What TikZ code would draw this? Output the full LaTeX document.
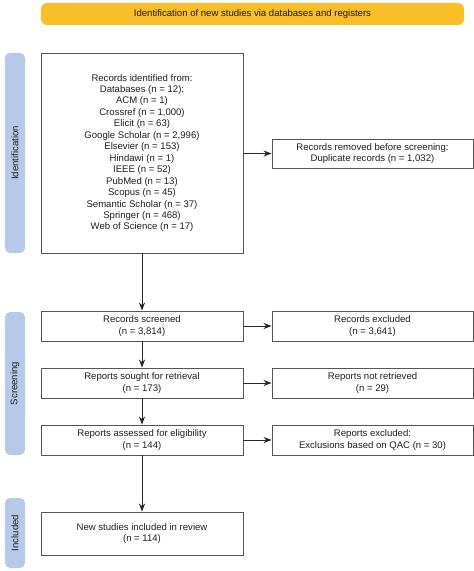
\documentclass[tikz,border=0pt]{standalone}
\usepackage{fontspec}
\setmainfont{Liberation Sans}
\usetikzlibrary{arrows.meta}
\definecolor{banner}{RGB}{251,189,40}
\definecolor{sidebar}{RGB}{182,201,232}
\definecolor{boxline}{RGB}{85,85,85}
\definecolor{txt}{RGB}{30,30,30}
\tikzset{
  flowbox/.style={draw=boxline, line width=0.9bp, fill=white, inner sep=0pt, align=center,
    text=txt, font=\fontsize{9.6}{11.5}\selectfont},
  leftbox/.style={flowbox, minimum width=202bp},
  rightbox/.style={flowbox, minimum width=201bp},
  sidebox/.style={fill=sidebar, rounded corners=5bp, inner sep=0pt, minimum width=20bp,
    text=txt, font=\fontsize{9.6}{11.5}\selectfont},
  sidetext/.style={rotate=90, text=txt, font=\fontsize{9.6}{11.5}\selectfont},
  conn/.style={draw=black!85, line width=0.8bp, -{Stealth[length=8bp,width=6bp]}}
}
\begin{document}
\begin{tikzpicture}[x=1bp,y=-1bp]
\useasboundingbox (0,0) rectangle (474,571);
% banner
\node[fill=banner, rounded corners=6bp, minimum width=423bp, minimum height=22bp, inner sep=0pt,
  text=txt, font=\fontsize{9.6}{11.5}\selectfont] (banner) at (252.5,14) {Identification of new studies via databases and registers};
% side bars
\node[sidebox, minimum height=200bp] (sid) at (15,153) {};
\node[sidetext] (sidt) at (sid.center) {Identification};
\node[sidebox, minimum height=143bp] (sscr) at (15,383.5) {};
\node[sidetext] (sscrt) at (sscr.center) {Screening};
\node[sidebox, minimum height=70bp] (sinc) at (15,533) {};
\node[sidetext] (sinct) at (sinc.center) {Included};
% boxes
\node[leftbox, minimum height=200bp] (main) at (142,153) {Records identified from:\\Databases (n = 12):\\ACM (n = 1)\\Crossref (n = 1,000)\\Elicit (n = 63)\\Google Scholar (n = 2,996)\\Elsevier (n = 153)\\Hindawi (n = 1)\\IEEE (n = 52)\\PubMed (n = 13)\\Scopus (n = 45)\\Semantic Scholar (n = 37)\\Springer (n = 468)\\Web of Science (n = 17)};
\node[rightbox, minimum height=29bp] (removed) at (372.5,153.5) {Records removed before screening:\\Duplicate records (n = 1,032)};
\node[leftbox, minimum height=30bp] (screened) at (142,326) {Records screened\\(n = 3,814)};
\node[rightbox, minimum height=30bp] (excluded) at (372.5,326) {Records excluded\\(n = 3,641)};
\node[leftbox, minimum height=30bp] (sought) at (142,383) {Reports sought for retrieval\\(n = 173)};
\node[rightbox, minimum height=30bp] (notret) at (372.5,383) {Reports not retrieved\\(n = 29)};
\node[leftbox, minimum height=30bp] (assessed) at (142,440) {Reports assessed for eligibility\\(n = 144)};
\node[rightbox, minimum height=30bp] (qac) at (372.5,440) {Reports excluded:\\Exclusions based on QAC (n = 30)};
\node[leftbox, minimum height=43bp] (included) at (142,533.5) {New studies included in review\\(n = 114)};
% connectors
\draw[conn] (main) -- (screened);
\draw[conn] (main.east |- removed.west) -- (removed.west);
\draw[conn] (screened) -- (excluded);
\draw[conn] (screened) -- (sought);
\draw[conn] (sought) -- (notret);
\draw[conn] (sought) -- (assessed);
\draw[conn] (assessed) -- (qac);
\draw[conn] (assessed) -- (included);
\end{tikzpicture}
\end{document}
